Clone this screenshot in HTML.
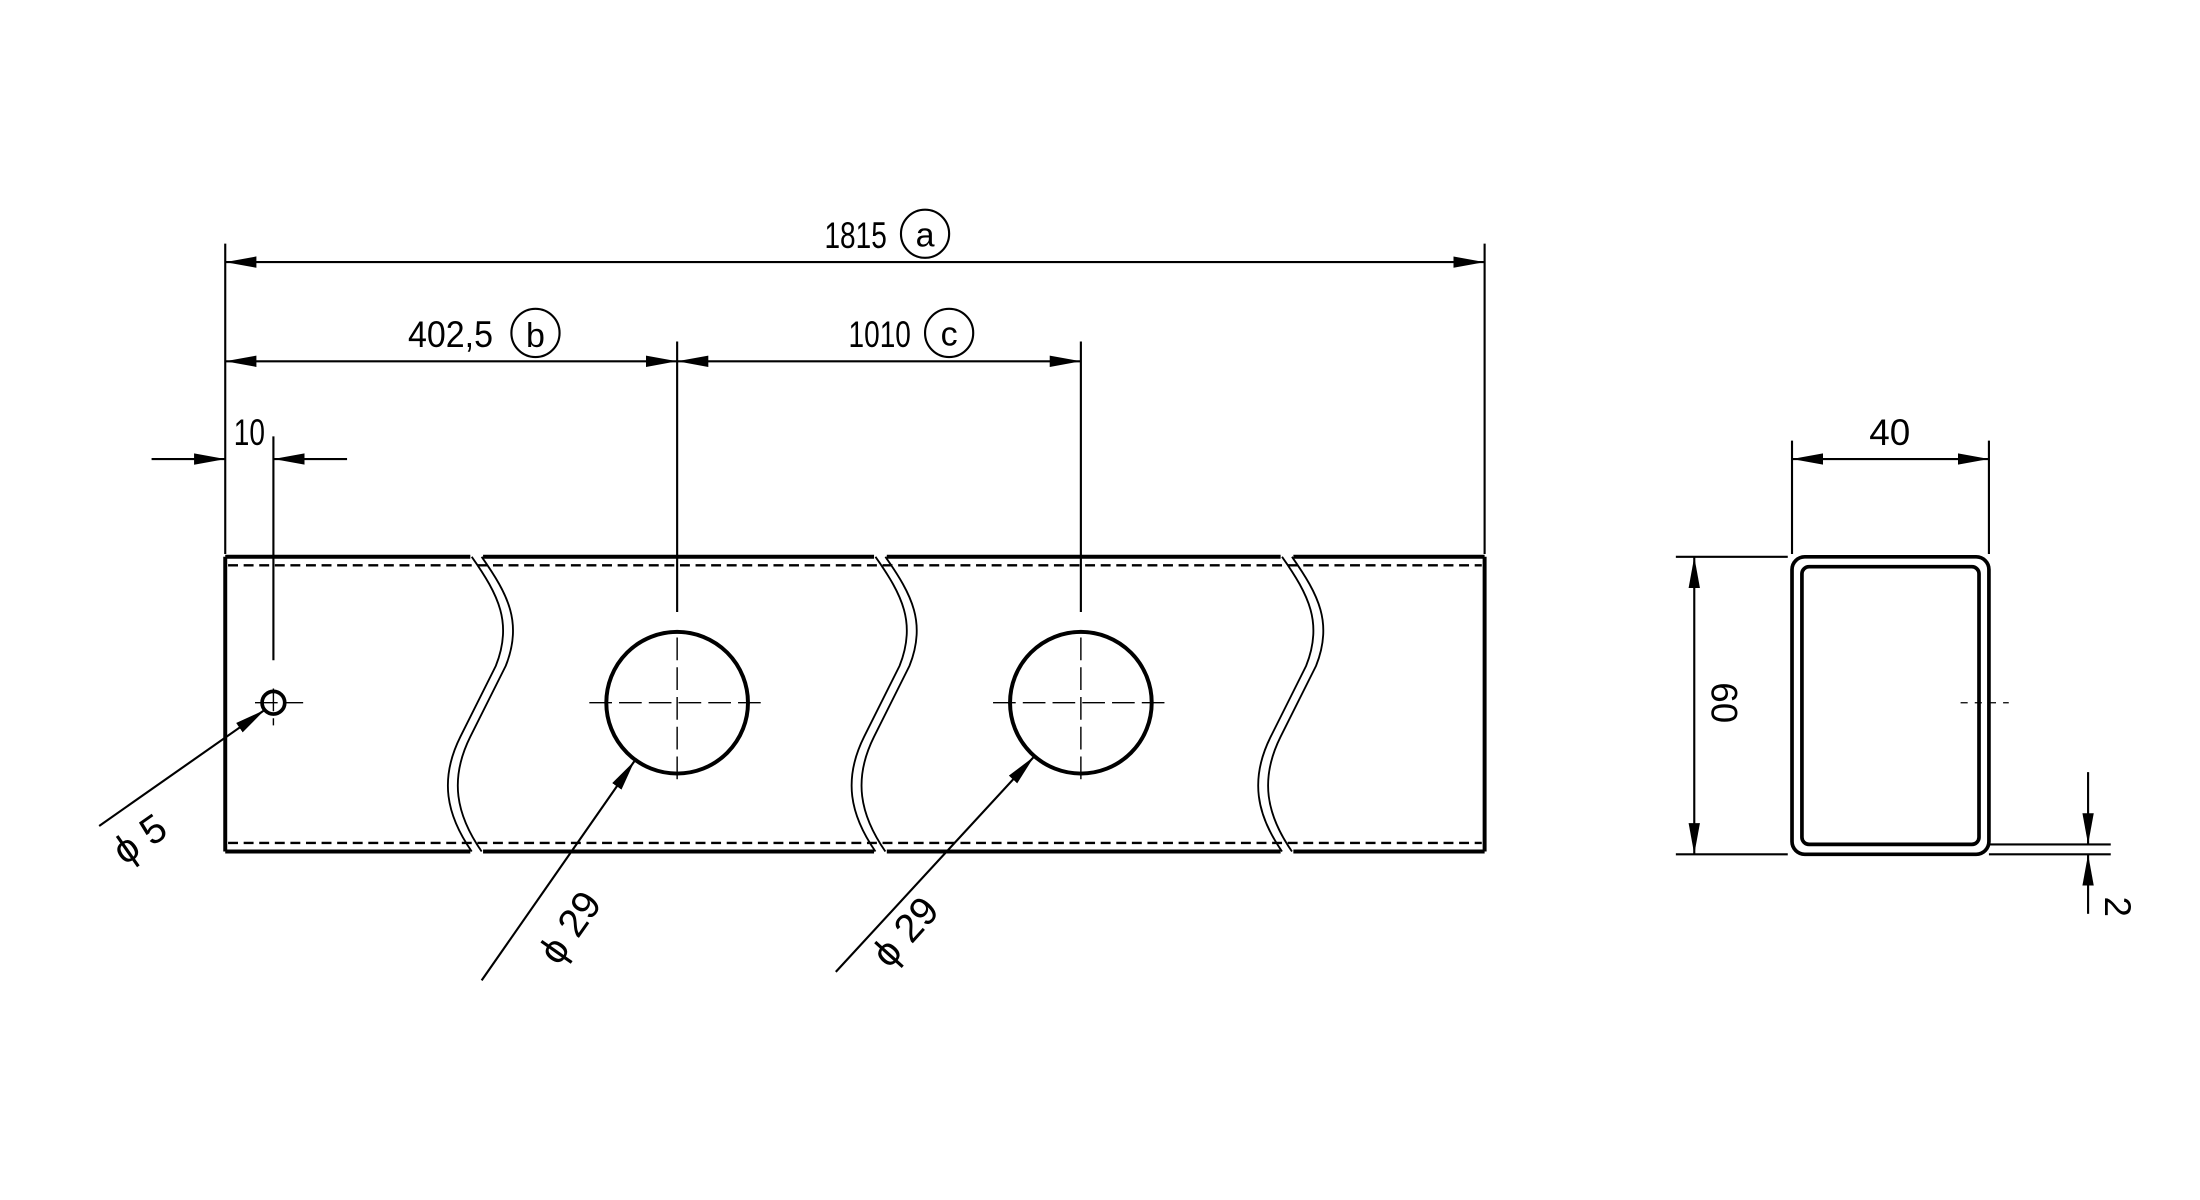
<!DOCTYPE html>
<html><head><meta charset="utf-8"><style>html,body{margin:0;padding:0;background:#fff}svg{display:block}</style></head>
<body>
<svg width="2200" height="1200" viewBox="0 0 1553 847" preserveAspectRatio="none" xmlns="http://www.w3.org/2000/svg" font-family="Liberation Sans, sans-serif">
<defs>
<marker id="ar" viewBox="0 0 22 9" refX="22" refY="4.5" markerWidth="22" markerHeight="9" markerUnits="userSpaceOnUse" orient="auto-start-reverse"><path d="M0,0.5 L22,4.5 L0,8.5 Z" fill="#000"/></marker>
<g id="wave" fill="none" stroke="#000" stroke-width="1.3">
<path d="M0,0 C19,27 29,47 17,77 L-8,127 C-23,157 -18,182 0,208"/>
<path d="M7,0 C26,27 36,47 24,77 L-1,127 C-16,157 -11,182 7,208"/>
</g>
</defs>
<rect width="1553" height="847" fill="#fff"/>
<g stroke="#000" fill="none">
<g stroke-width="2.8">
<line x1="159" y1="393" x2="159" y2="601"/>
<line x1="1048" y1="393" x2="1048" y2="601"/>
<line x1="159" y1="393" x2="332" y2="393"/><line x1="341" y1="393" x2="617" y2="393"/><line x1="626" y1="393" x2="904" y2="393"/><line x1="913" y1="393" x2="1048" y2="393"/>
<line x1="159" y1="601" x2="332" y2="601"/><line x1="341" y1="601" x2="617" y2="601"/><line x1="626" y1="601" x2="904" y2="601"/><line x1="913" y1="601" x2="1048" y2="601"/>
</g>
<g stroke-width="1.7" stroke-dasharray="7,4">
<line x1="161" y1="399" x2="1046" y2="399"/>
<line x1="161" y1="595" x2="1046" y2="595"/>
</g>
<use href="#wave" x="333" y="393"/>
<use href="#wave" x="618" y="393"/>
<use href="#wave" x="905" y="393"/>
<circle cx="478" cy="496" r="50" stroke-width="2.8"/>
<circle cx="763" cy="496" r="50" stroke-width="2.8"/>
<circle cx="193" cy="496" r="8" stroke-width="2.6"/>
<g stroke-width="1" stroke-dasharray="16,5">
<line x1="416" y1="496" x2="540" y2="496"/><line x1="478" y1="450" x2="478" y2="552"/>
<line x1="701" y1="496" x2="825" y2="496"/><line x1="763" y1="450" x2="763" y2="552"/>
<line x1="180" y1="496" x2="214" y2="496"/><line x1="193" y1="486" x2="193" y2="512"/>
</g>
<g stroke-width="1.5">
<line x1="159" y1="172" x2="159" y2="391"/>
<line x1="1048" y1="172" x2="1048" y2="391"/>
<line x1="478" y1="241" x2="478" y2="432"/>
<line x1="763" y1="241" x2="763" y2="432"/>
<line x1="193" y1="308" x2="193" y2="466"/>
<line x1="159" y1="185" x2="1048" y2="185" marker-start="url(#ar)" marker-end="url(#ar)"/>
<line x1="159" y1="255" x2="478" y2="255" marker-start="url(#ar)" marker-end="url(#ar)"/>
<line x1="478" y1="255" x2="763" y2="255" marker-start="url(#ar)" marker-end="url(#ar)"/>
<line x1="107" y1="324" x2="159" y2="324" marker-end="url(#ar)"/>
<line x1="245" y1="324" x2="193" y2="324" marker-end="url(#ar)"/>
<line x1="70" y1="583" x2="187" y2="501" marker-end="url(#ar)"/>
<line x1="340" y1="692" x2="448" y2="537" marker-end="url(#ar)"/>
<line x1="590" y1="686" x2="730" y2="534" marker-end="url(#ar)"/>
<circle cx="653" cy="165" r="17"/>
<circle cx="378" cy="235" r="17"/>
<circle cx="670" cy="235" r="17"/>
</g>
<rect x="1265" y="393" width="139" height="210" rx="9" stroke-width="2.6"/>
<rect x="1272" y="400" width="125" height="196" rx="5" stroke-width="2.6"/>
<g stroke-width="1.5">
<line x1="1265" y1="311" x2="1265" y2="391"/>
<line x1="1404" y1="311" x2="1404" y2="391"/>
<line x1="1265" y1="324" x2="1404" y2="324" marker-start="url(#ar)" marker-end="url(#ar)"/>
<line x1="1183" y1="393" x2="1262" y2="393"/>
<line x1="1183" y1="603" x2="1262" y2="603"/>
<line x1="1196" y1="393" x2="1196" y2="603" marker-start="url(#ar)" marker-end="url(#ar)"/>
<line x1="1404" y1="596" x2="1490" y2="596"/>
<line x1="1404" y1="603" x2="1490" y2="603"/>
<line x1="1474" y1="545" x2="1474" y2="596" marker-end="url(#ar)"/>
<line x1="1474" y1="645" x2="1474" y2="603" marker-end="url(#ar)"/>
</g>
<g stroke-width="0.9" stroke-dasharray="5,5"><line x1="1384" y1="496" x2="1418" y2="496"/></g>
</g>
<g fill="#000" font-size="26">
<text x="604" y="175" text-anchor="middle" textLength="44" lengthAdjust="spacingAndGlyphs">1815</text>
<text x="653" y="174" text-anchor="middle" font-size="24">a</text>
<text x="318" y="245" text-anchor="middle" textLength="60" lengthAdjust="spacingAndGlyphs">402,5</text>
<text x="378" y="245" text-anchor="middle" font-size="24">b</text>
<text x="621" y="245" text-anchor="middle" textLength="44" lengthAdjust="spacingAndGlyphs">1010</text>
<text x="670" y="244" text-anchor="middle" font-size="24">c</text>
<text x="176" y="314" text-anchor="middle" textLength="22" lengthAdjust="spacingAndGlyphs">10</text>
<text x="1334" y="314" text-anchor="middle">40</text>
<text transform="translate(1208,496) rotate(90)" text-anchor="middle">60</text>
<text transform="translate(1486,640) rotate(90)" text-anchor="middle">2</text>
<text transform="translate(104,600) rotate(-35)" text-anchor="middle" font-size="28">ϕ   5</text>
<text transform="translate(410,660) rotate(-55)" text-anchor="middle" font-size="28">ϕ    29</text>
<text transform="translate(646,664) rotate(-48)" text-anchor="middle" font-size="28">ϕ    29</text>
</g>
</svg>
</body></html>
